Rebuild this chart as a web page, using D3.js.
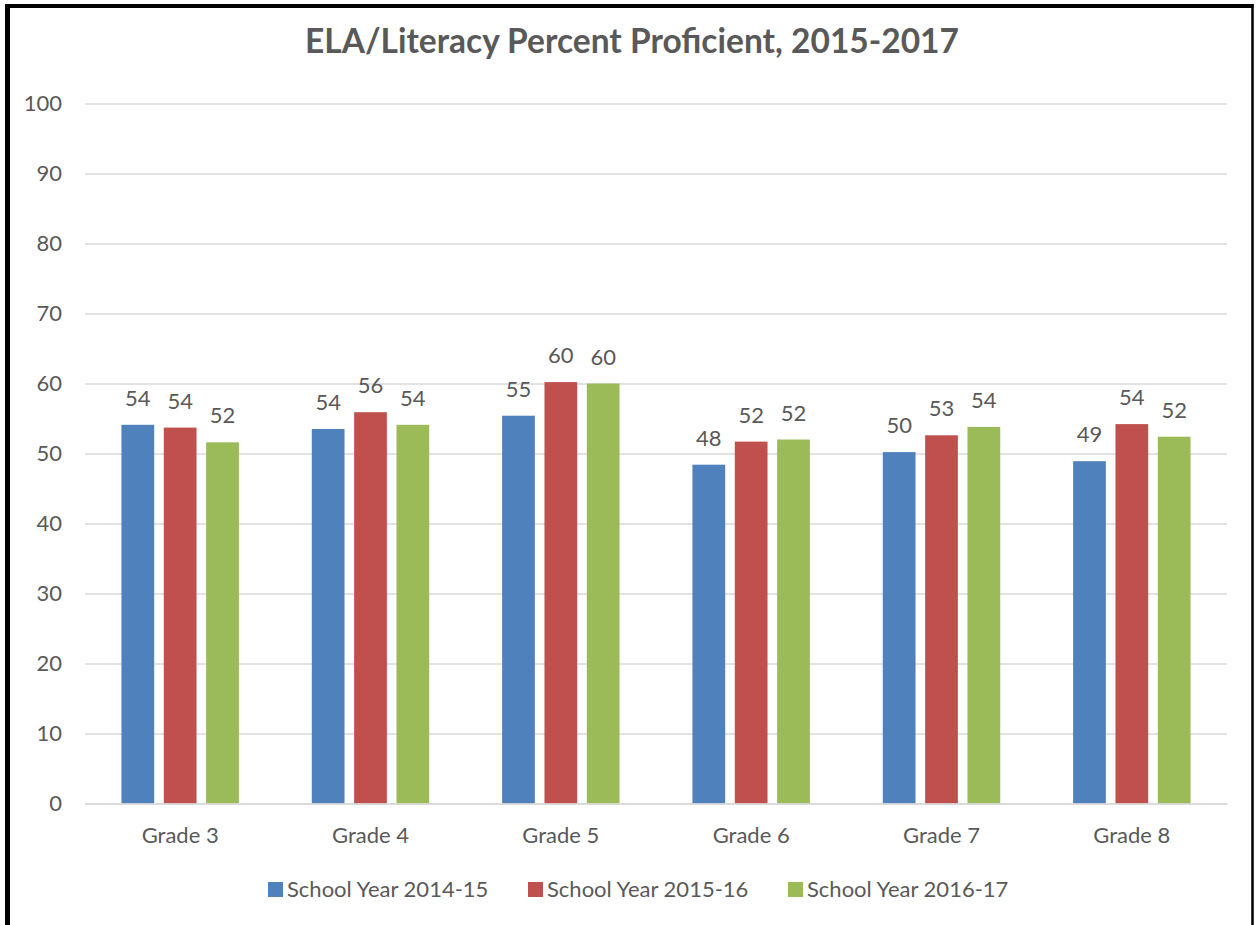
<!DOCTYPE html>
<html>
<head>
<meta charset="utf-8">
<script src="https://cdnjs.cloudflare.com/ajax/libs/d3/7.8.5/d3.min.js"></script>
<style>
  body { margin: 0; background: #fff; }
  svg { display: block; }
  text { font-family: Lato, "Open Sans", sans-serif; fill: #595959; }
</style>
</head>
<body>
<script>
var grades = ["Grade 3", "Grade 4", "Grade 5", "Grade 6", "Grade 7", "Grade 8"]; // categories
var seriesNames = ["School Year 2014-15", "School Year 2015-16", "School Year 2016-17"]; // legend
var year1415 = [54.1, 53.5, 55.4, 48.4, 50.2, 48.9]; // blue
var year1516 = [53.7, 55.9, 60.2, 51.7, 52.6, 54.2]; // red
var year1617 = [51.6, 54.1, 60.0, 52.0, 53.8, 52.4]; // green
var yTicks = [0, 10, 20, 30, 40, 50, 60, 70, 80, 90, 100]; // y-axis labels

var colors = ["#4F81BD", "#C0504D", "#9BBB59"];
var allSeries = [year1415, year1516, year1617];

var width = 1256;
var height = 925;
var margin = {top: 103.5, left: 85, right: 29, bottom: 121.5}; // plot area

var svg = d3.select("body").append("svg").attr("width", width).attr("height", height);

// frame round the chart
svg.append("line").attr("x1", 7.5).attr("x2", 7.5).attr("y1", 4).attr("y2", height).attr("stroke", "#000").attr("stroke-width", 5);
svg.append("line").attr("x1", 5).attr("x2", 1253.5).attr("y1", 6).attr("y2", 6).attr("stroke", "#000").attr("stroke-width", 4);
svg.append("line").attr("x1", 1252.5).attr("x2", 1252.5).attr("y1", 4).attr("y2", height).attr("stroke", "#000").attr("stroke-width", 2.5);

var y = d3.scaleLinear()
      .domain([0, 100])
      .range([height - margin.bottom, margin.top]); // 0 -> 803.5, 100 -> 103.5

var x0 = d3.scaleBand()
      .domain(grades)
      .range([margin.left, width - margin.right])
      .paddingInner(0.383)
      .paddingOuter(0.1915);

var x1 = d3.scaleBand()
      .domain(d3.range(3))
      .range([0, x0.bandwidth()])
      .paddingInner(0.227);

// gridlines + tick labels
var yAxis = d3.axisLeft(y).tickValues(yTicks).tickSize(-(width - margin.right - margin.left)).tickPadding(23);
var yG = svg.append("g").attr("transform", "translate(" + margin.left + ",0)").call(yAxis);
yG.select(".domain").remove();
yG.selectAll(".tick line").attr("stroke", "#d9d9d9").attr("stroke-width", 1.5);
yG.selectAll(".tick text").attr("font-size", 22).attr("fill", "#595959").style("font-family", "Lato");

// bars
grades.forEach(function(g, i) {
  allSeries.forEach(function(s, j) {
    svg.append("rect")
       .attr("x", x0(g) + x1(j))
       .attr("y", y(s[i]))
       .attr("width", x1.bandwidth())
       .attr("height", y(0) - y(s[i]))
       .attr("fill", colors[j]);
    svg.append("text")  // value above the bar
       .attr("x", x0(g) + x1(j) + x1.bandwidth() / 2)
       .attr("y", y(s[i]) - 19)
       .attr("text-anchor", "middle")
       .attr("font-size", 22)
       .attr("fill", "#404040")
       .text(d3.format(".0f")(s[i]));
  });
});

// x-axis line
var xAxis = d3.axisBottom(x0).tickSize(0).tickPadding(24);
var xG = svg.append("g").attr("transform", "translate(0," + y(0) + ")").call(xAxis);
xG.select(".domain").attr("stroke", "#d9d9d9").attr("stroke-width", 1.5);
xG.selectAll(".tick text").attr("font-size", 22).attr("fill", "#595959").style("font-family", "Lato");

// title
svg.append("text")
   .attr("x", 632)
   .attr("y", 53)
   .attr("text-anchor", "middle")
   .attr("font-size", 33.5)
   .attr("font-weight", "bold")
   .text("ELA/Literacy Percent Proficient, 2015-2017");

// legend
var legendX = [268, 528, 788];
seriesNames.forEach(function(n, j) {
  svg.append("rect").attr("x", legendX[j]).attr("y", 882).attr("width", 15).attr("height", 15).attr("fill", colors[j]);
  svg.append("text").attr("x", legendX[j] + 19).attr("y", 897).attr("font-size", 22).text(n);
});
</script>
</body>
</html>
